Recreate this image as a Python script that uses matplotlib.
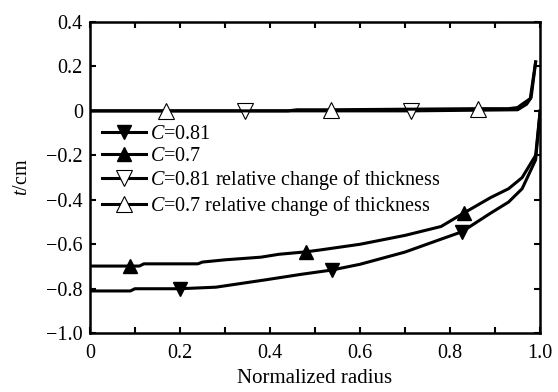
import matplotlib
matplotlib.use('Agg')
import matplotlib.pyplot as plt
from matplotlib.ticker import MultipleLocator

plt.rcParams['font.family'] = ['Liberation Serif', 'DejaVu Serif']
plt.rcParams['mathtext.fontset'] = 'custom'
plt.rcParams['mathtext.it'] = 'Liberation Serif:italic'
plt.rcParams['mathtext.rm'] = 'Liberation Serif'

# thickness, C=0.81
x81 = [0, 0.09, 0.1, 0.2, 0.28, 0.33, 0.39, 0.47, 0.537, 0.6, 0.7, 0.78,
       0.826, 0.89, 0.93, 0.96, 0.99, 1.0]
t81 = [-0.81, -0.81, -0.80, -0.80, -0.793, -0.778, -0.76, -0.735, -0.716,
       -0.69, -0.635, -0.577, -0.544, -0.46, -0.41, -0.35, -0.22, 0.0]
mark81 = [3, 8, 12]

# thickness, C=0.7
x70 = [0, 0.09, 0.11, 0.12, 0.24, 0.25, 0.3, 0.38, 0.42, 0.48, 0.51, 0.6,
       0.7, 0.78, 0.83, 0.89, 0.93, 0.96, 0.99, 1.0]
t70 = [-0.698, -0.698, -0.698, -0.688, -0.688, -0.68, -0.67, -0.658, -0.645,
       -0.634, -0.626, -0.60, -0.56, -0.52, -0.46, -0.39, -0.35, -0.30, -0.2, 0.0]
mark70 = [1, 9, 14]

# relative change of thickness
xr81 = [0, 0.344, 0.713, 0.95, 0.97, 0.98, 0.99]
tr81 = [0, 0, 0, 0.005, 0.03, 0.06, 0.22]
markr81 = [1, 2]

xr70 = [0, 0.17, 0.44, 0.46, 0.535, 0.862, 0.93, 0.95, 0.96, 0.978, 0.99]
tr70 = [0, 0, 0, 0.005, 0.005, 0.01, 0.01, 0.015, 0.03, 0.055, 0.22]
markr70 = [1, 4, 5]

xticks = [0, 0.2, 0.4, 0.6, 0.8, 1.0]
xticklabels = ['0', '0.2', '0.4', '0.6', '0.8', '1.0']
yticks = [0.4, 0.2, 0, -0.2, -0.4, -0.6, -0.8, -1.0]
yticklabels = ['0.4', '0.2', '0', '\u22120.2', '\u22120.4', '\u22120.6',
               '\u22120.8', '\u22121.0']

fs = 14.5

fig = plt.figure(figsize=(5.58, 3.92), dpi=100)
ax = fig.add_axes([0.161, 0.150, 0.807, 0.794])

lw = 2.2
ax.plot(x81, t81, color='black', lw=lw, marker='v', ms=10, markevery=mark81,
        label='$C$=0.81')
ax.plot(x70, t70, color='black', lw=lw, marker='^', ms=10, markevery=mark70,
        label='$C$=0.7')
ax.plot(xr81, tr81, color='black', lw=lw, marker='v', ms=11, markevery=markr81,
        mfc='white', mew=0.8, label='$C$=0.81 relative change of thickness')
ax.plot(xr70, tr70, color='black', lw=lw, marker='^', ms=11, markevery=markr70,
        mfc='white', mew=0.8, label='$C$=0.7 relative change of thickness')

ax.set_xlim(0, 1.0)
ax.set_ylim(-1.0, 0.4)
ax.set_xticks(xticks)
ax.set_xticklabels(xticklabels)
ax.xaxis.set_minor_locator(MultipleLocator(0.1))
ax.set_yticks(yticks)
ax.set_yticklabels(yticklabels)
ax.tick_params(which='both', direction='in', top=True, right=True,
               labelsize=fs, width=1.5, pad=5)
ax.tick_params(axis='x', which='both', pad=8)
ax.tick_params(which='major', length=4)
ax.tick_params(which='minor', length=4)
for s in ax.spines.values():
    s.set_linewidth(1.8)

ax.set_xlabel('Normalized radius', fontsize=fs + 0.5, labelpad=4)
ax.set_ylabel('$t$/cm', fontsize=fs, labelpad=10)

ax.legend(loc='upper left', bbox_to_anchor=(0.005, 0.70), frameon=False,
          fontsize=fs, handlelength=2.2, handletextpad=0.2,
          labelspacing=0.1, borderaxespad=0.3, borderpad=0.2)

fig.savefig('out.png', dpi=100)
